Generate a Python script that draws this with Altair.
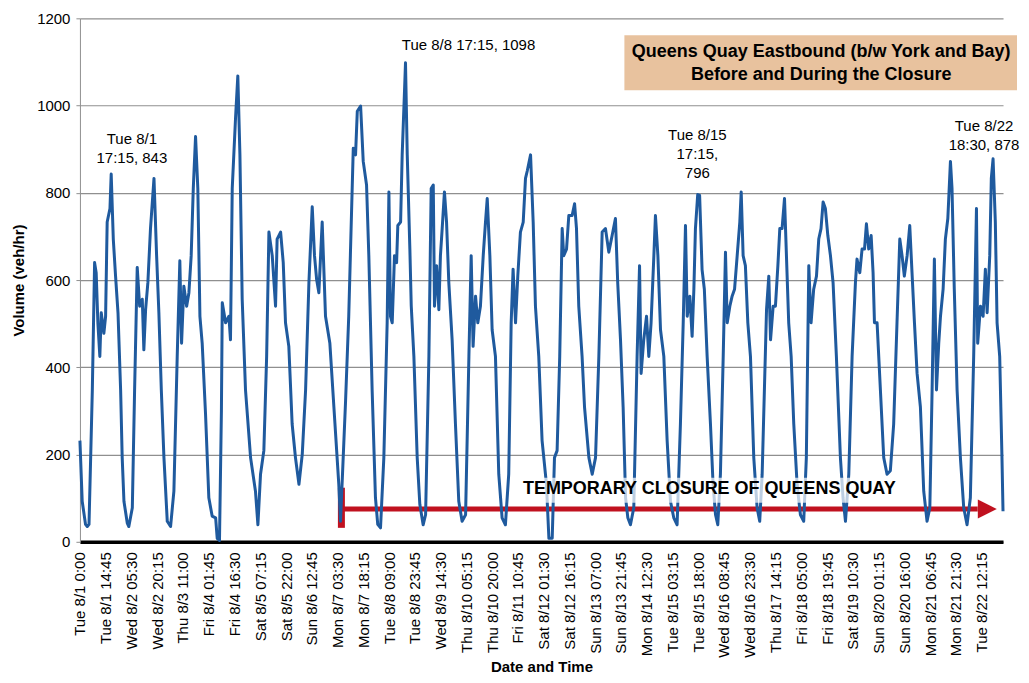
import json
import altair as alt
import pandas as pd

# ---- data (hours since Tue 8/1 0:00, veh/hr) ----
hours = [
    0.0, 1.3, 3.2, 4.2, 5.2, 7.1, 8.4, 9.3, 10.3, 11.4, 12.2, 13.7, 14.7, 15.6, 17.2, 17.9,
    19.1, 20.4, 21.8, 23.3, 24.2, 25.2, 27.1, 28.0, 30.0, 31.3, 32.8, 34.2, 35.7, 36.6, 37.6,
    38.9, 40.4, 42.4, 43.9, 45.2, 46.6, 48.1, 50.0, 51.9, 53.8, 55.7, 57.2, 58.2, 59.5, 61.1,
    62.4, 63.7, 64.9, 66.2, 67.5, 68.7, 70.0, 71.9, 73.8, 75.7, 77.7, 78.6, 79.9, 81.0, 81.5,
    83.4, 85.3, 86.2, 87.2, 89.1, 90.4, 91.6, 92.9, 94.8, 97.7, 100.5, 101.9, 103.4, 105.3,
    106.9, 108.2, 110.1, 112.0, 112.9, 114.9, 116.4, 117.7, 119.6, 121.5, 123.4, 125.4, 127.3,
    129.2, 131.1, 133.0, 134.3, 135.5, 136.8, 138.7, 140.6, 143.1, 145.4, 148.2, 149.2, 152.1,
    153.9, 156.5, 157.8, 158.8, 160.7, 162.2, 164.1, 165.4, 167.3, 169.2, 170.5, 172.1, 174.0,
    175.9, 176.9, 177.8, 178.8, 180.1, 181.3, 182.0, 183.6, 184.5, 185.9, 186.4, 187.4, 188.9,
    189.7, 191.2, 193.1, 194.6, 196.5, 197.9, 199.8, 201.1, 202.3, 203.0, 204.2, 205.5, 206.4,
    207.4, 208.7, 209.9, 211.2, 213.1, 215.0, 216.9, 218.8, 220.8, 222.7, 224.0, 225.1, 226.5,
    227.8, 229.3, 230.9, 232.2, 233.2, 234.7, 236.0, 237.9, 239.8, 241.7, 243.6, 245.5, 246.9,
    248.0, 249.4, 250.7, 252.2, 253.8, 255.1, 256.1, 258.0, 259.5, 260.8, 262.7, 264.6, 267.1,
    268.5, 270.4, 271.7, 273.2, 274.7, 276.1, 277.0, 278.6, 279.9, 281.8, 283.2, 284.3, 285.6,
    287.5, 288.9, 291.4, 293.3, 295.2, 297.1, 299.0, 300.9, 302.8, 304.7, 306.6, 307.9, 309.5,
    311.0, 312.4, 313.7, 315.2, 317.1, 319.0, 320.4, 321.3, 322.8, 324.4, 325.7, 327.0, 328.6,
    329.5, 330.9, 332.4, 334.3, 336.2, 338.1, 340.0, 341.9, 343.8, 345.4, 346.7, 347.7, 349.2,
    350.5, 351.5, 352.4, 353.7, 354.8, 356.2, 357.5, 359.1, 361.0, 362.5, 363.9, 365.2, 366.7,
    368.3, 369.6, 370.6, 372.1, 373.4, 374.8, 376.3, 377.8, 378.6, 379.7, 381.0, 382.4, 383.9,
    385.8, 387.7, 389.2, 390.6, 393.1, 394.4, 395.4, 396.9, 398.2, 399.6, 400.7, 402.0, 403.4,
    404.5, 405.8, 407.2, 408.7, 410.6, 412.5, 414.4, 415.9, 417.3, 418.6, 420.1, 421.7, 423.0,
    424.3, 425.5, 426.8, 428.2, 429.7, 431.2, 433.1, 435.4, 436.9, 438.3, 440.2, 442.1, 444.0,
    444.9, 446.5, 447.8, 449.2, 450.3, 451.6, 453.0, 454.1, 454.9, 456.4, 458.3, 460.2, 462.1,
    464.0, 465.9, 467.8, 469.4, 470.7, 472.0, 473.6, 475.1, 476.4, 477.8, 479.3, 481.2, 483.1,
    485.0, 486.6, 487.9, 489.2, 490.4, 491.7, 492.7, 494.2, 495.5, 496.9, 498.4, 499.3, 500.6,
    502.2, 504.1, 506.0, 507.9, 509.8, 511.7, 513.3, 514.0, 515.6, 517.1, 518.4, 519.4, 520.9,
    521.8, 522.8, 524.1, 525.1, 526.6, 527.9, 528.5,
]
volume = [
    232, 93, 40, 35, 40, 348, 640, 617, 500, 425, 525, 478, 517, 733, 764, 843,
    694, 609, 525, 348, 193, 93, 43, 35, 78, 348, 629, 540, 556, 440, 532,
    594, 718, 833, 656, 525, 348, 193, 47, 35, 116, 425, 644, 455, 586, 540,
    571, 656, 810, 929, 810, 517, 455, 294, 101, 59, 55, 8, 3, 300, 548,
    502, 517, 463, 810, 972, 1068, 887, 556, 348, 193, 116, 39, 155, 209,
    425, 710, 656, 540, 694, 710, 640, 502, 448, 270, 193, 132, 201,
    348, 594, 768, 656, 602, 571, 733, 517, 455, 309, 132, 47, 324,
    517, 902, 887, 987, 999, 872, 818, 656, 348, 101, 40, 32, 193,
    502, 802, 517, 502, 656, 640, 725, 733, 887, 1041, 1098, 887, 671,
    540, 425, 193, 86, 39, 62, 425, 810, 818, 540, 633, 532, 656,
    718, 802, 733, 594, 463, 270, 93, 47, 62, 425, 656, 448, 563,
    502, 540, 656, 733, 787, 656, 486, 425, 155, 55, 39, 155, 502,
    625, 502, 610, 710, 733, 833, 850, 887, 733, 540, 425, 232, 132,
    8, 8, 193, 209, 425, 718, 656, 671, 748, 748, 775, 718, 540,
    425, 309, 193, 155, 193, 425, 710, 718, 664, 702, 741, 594, 463,
    309, 101, 55, 39, 78, 425, 633, 386, 463, 517, 425, 502, 656,
    748, 656, 486, 425, 232, 93, 55, 39, 270, 502, 725, 517, 563,
    471, 579, 718, 796, 794, 624, 579, 425, 270, 132, 62, 39, 155,
    425, 664, 502, 540, 563, 579, 656, 733, 802, 656, 633, 502, 425,
    193, 78, 47, 155, 532, 609, 463, 540, 540, 633, 718, 718, 787,
    656, 502, 425, 270, 132, 62, 47, 193, 633, 502, 579, 609, 694,
    718, 779, 764, 702, 656, 594, 425, 193, 101, 47, 155, 425, 594,
    648, 617, 671, 671, 729, 671, 702, 617, 502, 502, 348, 193, 155,
    163, 270, 502, 694, 656, 609, 656, 725, 617, 502, 386, 309, 116,
    47, 78, 348, 648, 348, 455, 517, 579, 694, 741, 872, 810, 579,
    348, 193, 78, 39, 101, 425, 764, 455, 540, 517, 625, 525, 656,
    833, 878, 733, 502, 425, 193, 70,
]

x_labels = [
    "Tue 8/1 0:00", "Tue 8/1 14:45", "Wed 8/2 05:30", "Wed 8/2 20:15", "Thu 8/3 11:00",
    "Fri 8/4 01:45", "Fri 8/4 16:30", "Sat 8/5 07:15", "Sat 8/5 22:00", "Sun 8/6 12:45",
    "Mon 8/7 03:30", "Mon 8/7 18:15", "Tue 8/8 09:00", "Tue 8/8 23:45", "Wed 8/9 14:30",
    "Thu 8/10 05:15", "Thu 8/10 20:00", "Fri 8/11 10:45", "Sat 8/12 01:30", "Sat 8/12 16:15",
    "Sun 8/13 07:00", "Sun 8/13 21:45", "Mon 8/14 12:30", "Tue 8/15 03:15", "Tue 8/15 18:00",
    "Wed 8/16 08:45", "Wed 8/16 23:30", "Thu 8/17 14:15", "Fri 8/18 05:00", "Fri 8/18 19:45",
    "Sat 8/19 10:30", "Sun 8/20 01:15", "Sun 8/20 16:00", "Mon 8/21 06:45", "Mon 8/21 21:30",
    "Tue 8/22 12:15",
]
label_step_hours = 14.75
y_ticks = [0, 200, 400, 600, 800, 1000, 1200]

closure_start = 149.7      # Mon 8/7 early morning
closure_end = 514.0
closure_level = 75
arrow_center = 519.5

title_lines = ["Queens Quay Eastbound (b/w York and Bay)", "Before and During the Closure"]
closure_text = "TEMPORARY CLOSURE OF QUEENS QUAY"
peak_notes = [
    (["Tue 8/1", "17:15, 843"], 52, 121),
    (["Tue 8/8 17:15, 1098"], 389, 27),
    (["Tue 8/15", "17:15,", "796"], 618, 117),
    (["Tue 8/22", "18:30, 878"], 905, 108),
]

# ---- chart ----
FONT = "Liberation Sans"
BLUE = "#1F5A9E"
RED = "#C0111F"
W, H = 924, 524

df = pd.DataFrame({"h": hours, "v": volume})
tick_vals = [label_step_hours * i for i in range(len(x_labels))]
label_expr = json.dumps(x_labels) + "[round(datum.value / 14.75)]"

xs = alt.Scale(domain=[0, 528.5], nice=False, zero=False)
ys = alt.Scale(domain=[0, 1200], nice=False)

x_axis = alt.Axis(
    values=tick_vals, labelExpr=label_expr, labelAngle=270, labelFontSize=15,
    labelColor="black", labelPadding=10, ticks=False, grid=False,
    domainColor="black", domainWidth=3.5, labelOverlap=False, labelFlush=False,
    labelBound=False, labelSeparation=0, title="Date and Time", titleFontSize=15,
    titleFontWeight="bold", titlePadding=2, titleColor="black",
)
y_axis = alt.Axis(
    values=y_ticks, labelFontSize=15, labelColor="black", tickSize=4, tickColor="#8f8f8f",
    domainColor="#8f8f8f", gridColor="#8f8f8f", gridWidth=1.2, labelPadding=6,
    title="Volume (veh/hr)", titleFontSize=15, titleFontWeight="bold", titlePadding=10,
    titleColor="black", format="d",
)

one = pd.DataFrame({"a": [0]})

title_box = alt.Chart(one).mark_rect(color="#E8C29E").encode(
    x=alt.value(545), x2=alt.value(938), y=alt.value(17), y2=alt.value(72)
)
title_text = alt.Chart(one).mark_text(
    font=FONT, fontSize=18, fontWeight="bold", color="black", baseline="middle",
    align="center", lineHeight=23.5, dy=-11.75,
).encode(x=alt.value(742), y=alt.value(45), text=alt.value(title_lines))

red_df = pd.DataFrame({"h": [closure_start], "h2": [closure_end], "v": [closure_level],
                       "lo": [32], "hi": [124], "ac": [arrow_center]})
red_bar = alt.Chart(red_df).mark_rule(color=RED, strokeWidth=7).encode(
    x=alt.X("h:Q", scale=xs, axis=x_axis), y=alt.Y("lo:Q", scale=ys, axis=y_axis), y2="hi:Q"
)
red_line = alt.Chart(red_df).mark_rule(color=RED, strokeWidth=5).encode(
    x=alt.X("h:Q", scale=xs, axis=x_axis), x2="h2:Q", y=alt.Y("v:Q", scale=ys, axis=y_axis)
)
red_head = alt.Chart(red_df).mark_point(
    shape="M -1 -1 L 1 0 L -1 1 Z", filled=True, size=361, color=RED, opacity=1
).encode(x=alt.X("ac:Q", scale=xs, axis=x_axis), y=alt.Y("v:Q", scale=ys, axis=y_axis))

line = alt.Chart(df).mark_line(color=BLUE, strokeWidth=3, strokeJoin="round").encode(
    x=alt.X("h:Q", scale=xs, axis=x_axis), y=alt.Y("v:Q", scale=ys, axis=y_axis)
)

veil = alt.Chart(one).mark_rect(color="white", opacity=0.7).encode(
    x=alt.value(435), x2=alt.value(825), y=alt.value(460), y2=alt.value(485)
)
closure_label = alt.Chart(one).mark_text(
    font=FONT, fontSize=18, fontWeight="bold", color="black", align="center", baseline="middle"
).encode(x=alt.value(630), y=alt.value(471), text=alt.value(closure_text))

notes = []
for lines, px, py in peak_notes:
    notes.append(
        alt.Chart(one).mark_text(
            font=FONT, fontSize=15, color="black", align="center", baseline="middle",
            lineHeight=19,
        ).encode(x=alt.value(px), y=alt.value(py), text=alt.value(lines))
    )

chart = alt.layer(
    title_box, title_text, red_bar, red_line, red_head, line, veil, closure_label, *notes
).properties(
    width=W, height=H,
    padding={"left": 72, "top": 10, "right": 18, "bottom": 133},
    autosize=alt.AutoSizeParams(type="none"),
).configure_view(strokeWidth=0).configure_axis(
    labelFont=FONT, titleFont=FONT
).configure_axisX(labelOverlap=False, labelSeparation=0)

chart.save("out.html", embed_options={"renderer": "svg", "actions": False})
